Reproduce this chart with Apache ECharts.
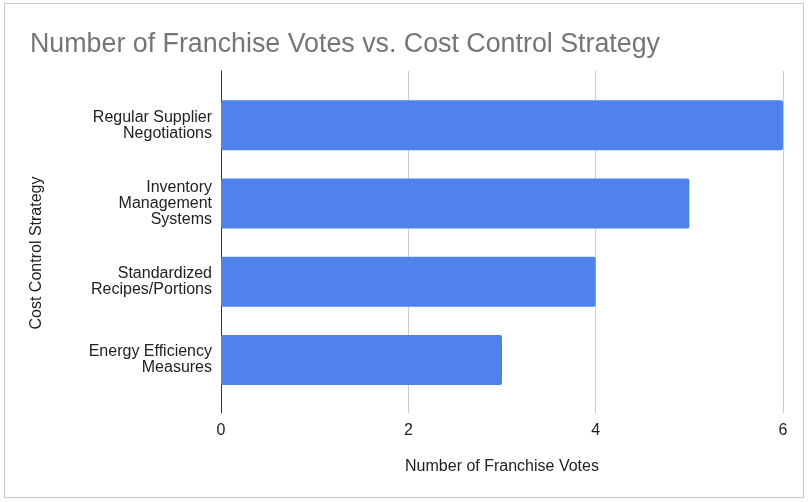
<!DOCTYPE html>
<html><head><meta charset="utf-8">
<script src="https://cdn.jsdelivr.net/npm/echarts@6/dist/echarts.min.js"></script>
<style>
html,body{margin:0;padding:0;background:#fff;}
#frame{position:absolute;left:4px;top:3px;width:800px;height:495px;border:1px solid #c8c8c8;box-sizing:border-box;}
#c{position:absolute;left:0;top:0;width:809px;height:502px;}
</style></head>
<body><div id="frame"></div><div id="c"></div>
<script>
const titleText = "Number of Franchise Votes vs. Cost Control Strategy";
const xAxisName = "Number of Franchise Votes";
const yAxisName = "Cost Control Strategy";
const categories = ["Regular Supplier\nNegotiations", "Inventory\nManagement\nSystems", "Standardized\nRecipes/Portions", "Energy Efficiency\nMeasures"];
const votes = [6, 5, 4, 3];
const xTicks = [0, 2, 4, 6];

const font = "'Liberation Sans', Arial, sans-serif";
const chart = echarts.init(document.getElementById('c'));
chart.setOption({
  animation: false,
  title: { text: titleText, left: 25, top: 26, textStyle: { fontFamily: font, fontSize: 26.8, fontWeight: 'normal', color: '#757575' } },
  grid: [
    { left: 221, right: 26, top: 71, bottom: 89 },
    { left: 221, right: 26, top: 86, bottom: 103 }
  ],
  xAxis: [
    { gridIndex: 0, type: 'value', min: xTicks[0], max: xTicks[xTicks.length-1], interval: 2,
      axisLine: { show: false }, axisTick: { show: false },
      splitLine: { lineStyle: { color: '#cccccc', width: 1 } },
      axisLabel: { fontFamily: font, fontSize: 16, color: '#222', margin: 10 },
      name: xAxisName, nameLocation: 'middle', nameGap: 46,
      nameTextStyle: { fontFamily: font, fontSize: 16, color: '#222' } },
    { gridIndex: 1, type: 'value', min: xTicks[0], max: xTicks[xTicks.length-1], show: false }
  ],
  yAxis: [
    { gridIndex: 0, type: 'value', min: 0, max: 1, axisLine: { show: true, onZero: false, lineStyle: { color: '#333', width: 1 } },
      axisTick: { show: false }, axisLabel: { show: false }, splitLine: { show: false } },
    { gridIndex: 1, type: 'category', data: categories, inverse: true,
      axisLine: { show: false }, axisTick: { show: false }, splitLine: { show: false },
      axisLabel: { fontFamily: font, fontSize: 16, color: '#222', margin: 9, lineHeight: 16, align: 'right' } }
  ],
  series: [{
    type: 'bar', xAxisIndex: 1, yAxisIndex: 1, data: votes, barWidth: 50,
    itemStyle: { color: '#4f82ea', borderRadius: 2 }
  }],
  graphic: [{
    type: 'text', rotation: Math.PI/2,
    style: { text: yAxisName, font: "16px 'Liberation Sans', Arial, sans-serif", fill: '#222', textAlign: 'center', textVerticalAlign: 'middle', x: 0, y: 0 },
    position: [37, 253]
  }]
});
</script></body></html>
